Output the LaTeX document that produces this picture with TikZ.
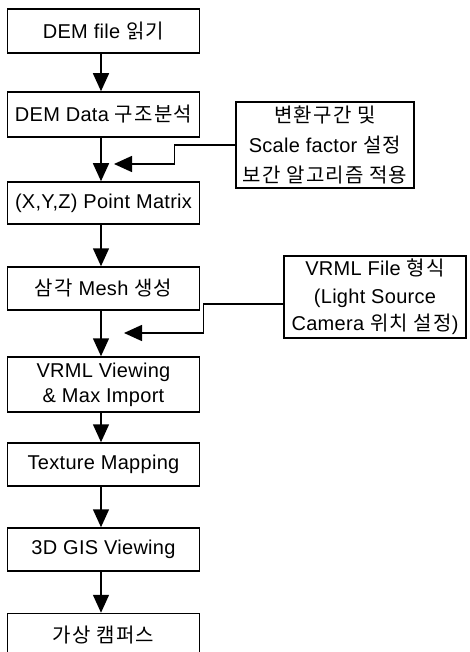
\documentclass[tikz,border=0pt]{standalone}
\usepackage{fontspec}
\setmainfont{Liberation Sans}[LetterSpace=1.5]
\newfontfamily\kor{Noto Sans CJK KR}[LetterSpace=6]
\usetikzlibrary{arrows.meta}
\begin{document}
\begin{tikzpicture}[x=1pt,y=-1pt,
  box/.style={draw, line width=1.5pt, inner sep=0pt, align=center, fill=white,
    font=\fontsize{20}{25}\selectfont},
  mainbox/.style={box, minimum width=192pt, minimum height=43pt},
  arr/.style={line width=1.5pt, -{Triangle[width=16pt,length=18pt]}}]
\useasboundingbox (0,0) rectangle (469,652);
\node[mainbox, minimum height=44pt] (b1) at (103.5,31) {DEM file {\kor 읽기}};
\node[mainbox, minimum height=45pt] (b2) at (103.5,114.5) {DEM Data {\kor 구조분석}};
\node[mainbox, minimum height=42pt] (b3) at (103.5,203) {(X,Y,Z) Point Matrix};
\node[mainbox] (b4) at (103.5,288.5) {{\kor 삼각} Mesh {\kor 생성}};
\node[mainbox, minimum height=55pt] (b5) at (103.5,384.5) {VRML Viewing\\ \& Max Import};
\node[mainbox] (b6) at (103.5,464.5) {Texture Mapping};
\node[mainbox] (b7) at (103.5,549.5) {3D GIS Viewing};
\node[mainbox] (b8) at (103.5,635) {{\kor 가상 캠퍼스}};
\node[box, minimum width=178pt, minimum height=86pt, font=\fontsize{20}{30}\selectfont] (s1) at (325,145)
  {{\kor 변환구간 및}\\ Scale factor {\kor 설정}\\ {\kor 보간 알고리즘 적용}};
\node[box, minimum width=182pt, minimum height=82pt, font=\fontsize{20}{27.5}\selectfont] (s2) at (375,297)
  {VRML File {\kor 형식}\\ (Light Source\\ Camera {\kor 위치 설정})};
\coordinate (c1) at (114,164);
\coordinate (c2) at (124,333);
\foreach \a/\b in {b1/b2,b2/b3,b3/b4,b4/b5,b5/b6,b6/b7,b7/b8}
  \draw[arr] ([xshift=-2.5pt]\a.south) -- ([xshift=-2.5pt]\b.north);
\draw[arr] (s1.west) -- ++(-61,0) |- (c1);
\draw[arr] ([yshift=-7pt]s2.west) -- ++(-80,0) |- (c2);
\end{tikzpicture}
\end{document}
